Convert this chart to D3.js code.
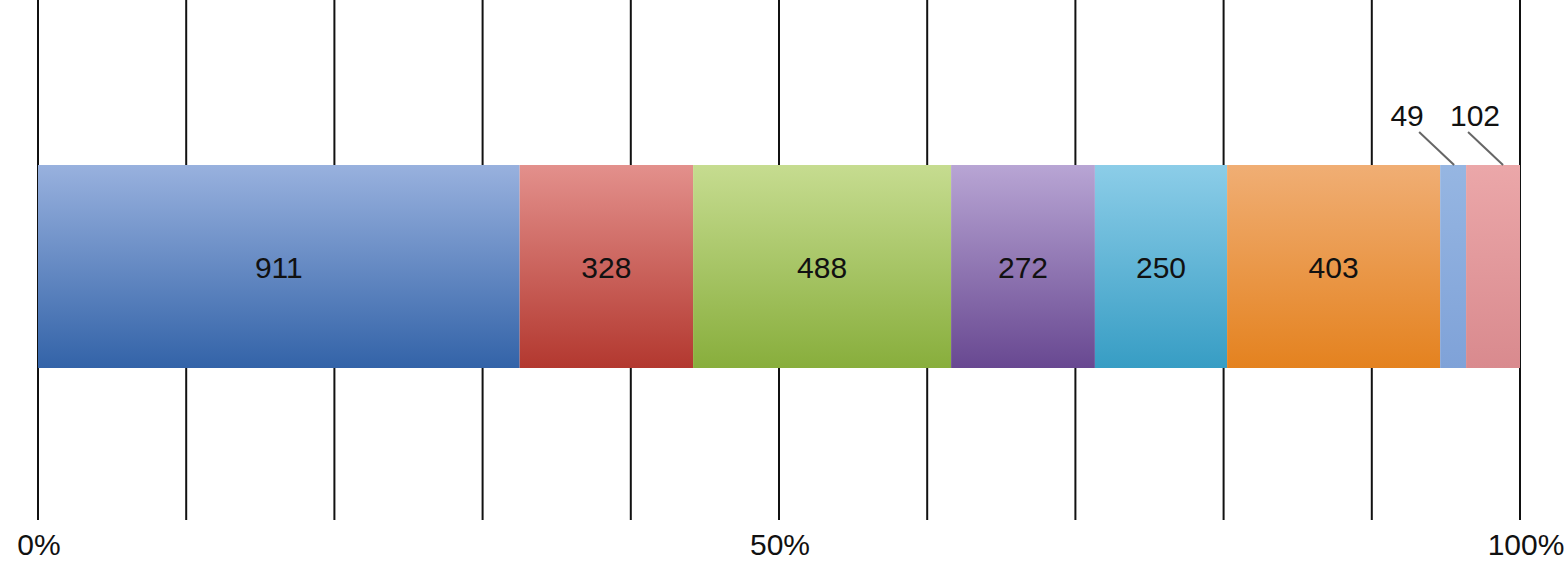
<!DOCTYPE html>
<html>
<head>
<meta charset="utf-8">
<script src="https://cdn.jsdelivr.net/npm/d3@7"></script>
<style>
  html, body { margin: 0; padding: 0; background: #ffffff; }
  svg { display: block; }
  text { font-family: "Liberation Sans", Arial, Helvetica, sans-serif; fill: #111; }
</style>
</head>
<body>
<svg id="chart" width="1568" height="564"></svg>
<script>
// Segment values of the single 100% stacked bar
const values = [911, 328, 488, 272, 250, 403, 49, 102];
// Gradient stops per segment: [top, bottom]
const topColors    = ["#98b1de", "#e3908c", "#c6dc90", "#b8a5d4", "#8ccde8", "#f0ae74", "#96b6e2", "#eba7a9"];
const bottomColors = ["#3363a8", "#b3382f", "#88ae3c", "#684891", "#379dc4", "#e4821f", "#7fa2d8", "#d98a8e"];
// Segments whose value label sits above the bar with a leader line
const outsideMin = 150;
const calloutLabelDx = { 6: -46, 7: -18 };
const calloutStartDx = { 6: -34, 7: -25 };
const calloutEndDx   = { 6: 1,   7: 10 };
// Axis ticks
const gridTicks = d3.range(0, 1.0001, 0.1);
const labelTicks = [0, 0.5, 1];

const svg = d3.select("#chart");
const total = d3.sum(values);

const x = d3.scaleLinear().domain([0, 1]).range([38, 1520]);
const barTop = 165, barBottom = 368;

// cumulative shares
let acc = 0;
const segs = values.map((v, i) => {
  const s = { i, v, x0: acc / total, x1: (acc + v) / total };
  acc += v;
  return s;
});
const mid = d => (x(d.x0) + x(d.x1)) / 2;

const defs = svg.append("defs");
segs.forEach(s => {
  const g = defs.append("linearGradient")
    .attr("id", "grad" + s.i)
    .attr("x1", 0).attr("y1", 0).attr("x2", 0).attr("y2", 1);
  g.append("stop").attr("offset", "0%").attr("stop-color", topColors[s.i]);
  g.append("stop").attr("offset", "100%").attr("stop-color", bottomColors[s.i]);
});

// vertical gridlines (behind the bar)
svg.append("g")
  .selectAll("line")
  .data(gridTicks)
  .join("line")
  .attr("x1", d => x(d)).attr("x2", d => x(d))
  .attr("y1", 0).attr("y2", 520)
  .attr("stroke", "#111")
  .attr("stroke-width", 2);

// bar segments
svg.append("g")
  .selectAll("rect")
  .data(segs)
  .join("rect")
  .attr("x", d => x(d.x0))
  .attr("width", d => x(d.x1) - x(d.x0))
  .attr("y", barTop)
  .attr("height", barBottom - barTop)
  .attr("fill", d => `url(#grad${d.i})`);

// inside labels
svg.append("g")
  .selectAll("text")
  .data(segs.filter(d => d.v >= outsideMin))
  .join("text")
  .attr("x", mid)
  .attr("y", (barTop + barBottom) / 2 + 11)
  .attr("text-anchor", "middle")
  .attr("font-size", 30)
  .text(d => d.v);

// callout labels above the bar
const out = svg.append("g").selectAll("g")
  .data(segs.filter(d => d.v < outsideMin))
  .join("g");
out.append("line")
  .attr("x1", d => mid(d) + calloutStartDx[d.i])
  .attr("y1", 132)
  .attr("x2", d => mid(d) + calloutEndDx[d.i])
  .attr("y2", barTop)
  .attr("stroke", "#666")
  .attr("stroke-width", 2);
out.append("text")
  .attr("x", d => mid(d) + calloutLabelDx[d.i])
  .attr("y", 126)
  .attr("text-anchor", "middle")
  .attr("font-size", 30)
  .text(d => d.v);

// percentage labels
svg.append("g")
  .selectAll("text")
  .data(labelTicks)
  .join("text")
  .attr("x", d => x(d) + (d === 1 ? 6 : 1))
  .attr("y", 555)
  .attr("text-anchor", "middle")
  .attr("font-size", 30)
  .text(d => d3.format(".0%")(d));
</script>
</body>
</html>
